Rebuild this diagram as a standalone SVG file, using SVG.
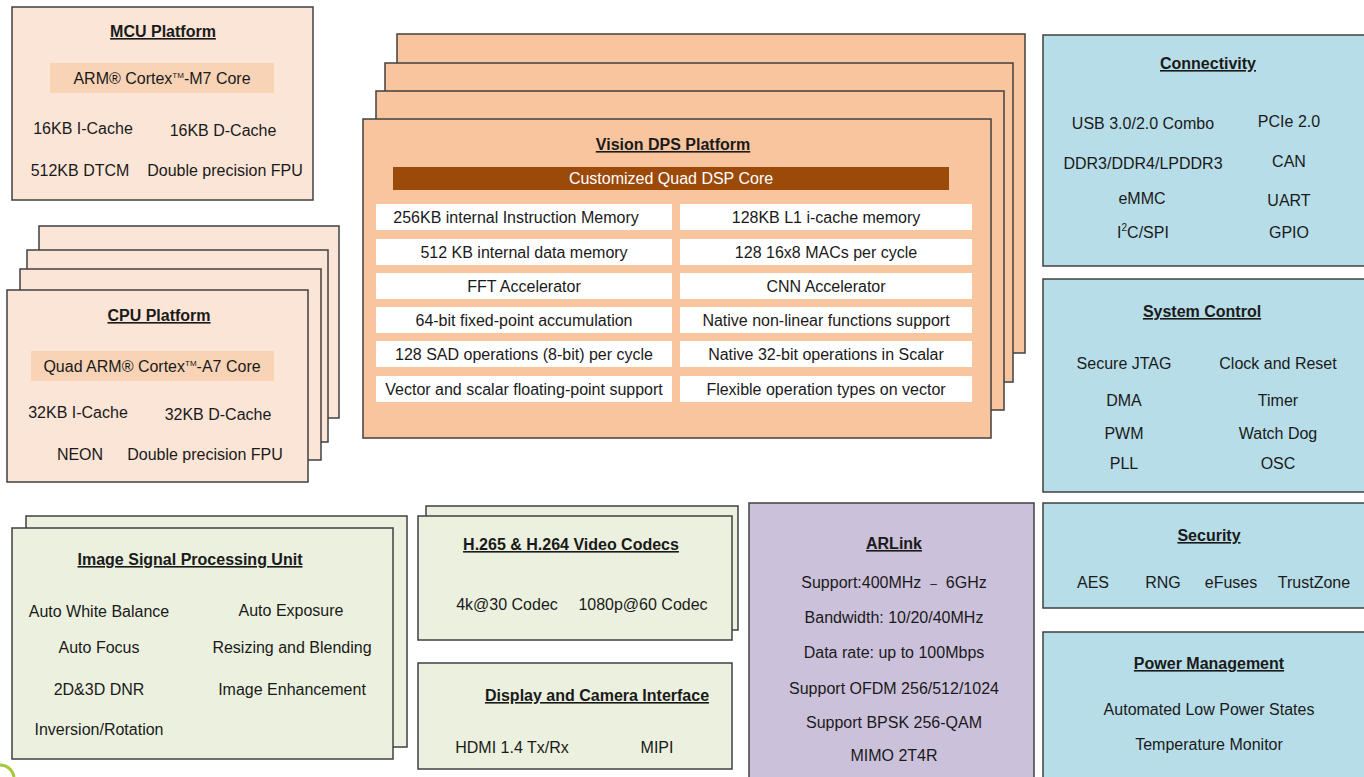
<svg xmlns="http://www.w3.org/2000/svg" width="1364" height="777" viewBox="0 0 1364 777">
<style>
text{font-family:"Liberation Sans",Arial,sans-serif;font-size:16px;fill:#1a1a1a;text-anchor:middle}
.t{font-weight:bold;text-decoration:underline}
.b{stroke:#404040;stroke-width:1.5}
.peach{fill:#fbe5d6}
.dsp{fill:#f8c59f}
.hl{fill:#f9d3b6}
.cell{fill:#ffffff}
.blue{fill:#b7dde8}
.green{fill:#ebf1de}
.lav{fill:#ccc1da}
</style>
<rect width="1364" height="777" fill="#ffffff"/>
<path d="M0 765 A 14 14 0 0 1 14 777" fill="none" stroke="#a6c93a" stroke-width="3"/>

<g id="mcu">
<rect class="b peach" x="12" y="7" width="301" height="193"/>
<text class="t" x="163" y="37">MCU Platform</text>
<rect class="hl" x="50" y="63" width="224" height="30"/>
<text x="162" y="84">ARM® Cortex<tspan font-size="8" dy="-6">TM</tspan><tspan dy="6">-M7 Core</tspan></text>
<text x="83" y="134">16KB I-Cache</text>
<text x="223" y="136">16KB D-Cache</text>
<text x="80" y="176">512KB DTCM</text>
<text x="225" y="176">Double precision FPU</text>
</g>

<g id="cpu">
<rect class="b peach" x="39" y="226" width="300" height="192"/>
<rect class="b peach" x="27" y="250" width="301" height="192"/>
<rect class="b peach" x="20" y="269" width="301" height="191"/>
<rect class="b peach" x="7" y="290" width="301" height="192"/>
<text class="t" x="159" y="321">CPU Platform</text>
<rect class="hl" x="31" y="351" width="243" height="30"/>
<text x="152" y="372">Quad ARM® Cortex<tspan font-size="8" dy="-6">TM</tspan><tspan dy="6">-A7 Core</tspan></text>
<text x="78" y="418">32KB I-Cache</text>
<text x="218" y="420">32KB D-Cache</text>
<text x="80" y="460">NEON</text>
<text x="205" y="460">Double precision FPU</text>
</g>

<g id="vision-dsp">
<rect class="b dsp" x="397" y="34" width="628" height="319"/>
<rect class="b dsp" x="385" y="63" width="628" height="319"/>
<rect class="b dsp" x="376" y="91" width="628" height="319"/>
<rect class="b dsp" x="363" y="119" width="628" height="319"/>
<text class="t" x="673" y="150">Vision DPS Platform</text>
<rect x="393" y="167" width="556" height="23" fill="#9c4a0a"/>
<text x="671" y="184" style="fill:#ffffff">Customized Quad DSP Core</text>
<rect class="cell" x="376" y="204" width="296" height="26"/>
<rect class="cell" x="680" y="204" width="292" height="26"/>
<rect class="cell" x="376" y="239" width="296" height="26"/>
<rect class="cell" x="680" y="239" width="292" height="26"/>
<rect class="cell" x="376" y="273" width="296" height="26"/>
<rect class="cell" x="680" y="273" width="292" height="26"/>
<rect class="cell" x="376" y="307" width="296" height="26"/>
<rect class="cell" x="680" y="307" width="292" height="26"/>
<rect class="cell" x="376" y="341" width="296" height="26"/>
<rect class="cell" x="680" y="341" width="292" height="26"/>
<rect class="cell" x="376" y="376" width="296" height="26"/>
<rect class="cell" x="680" y="376" width="292" height="26"/>
<text x="516" y="223">256KB internal Instruction Memory</text>
<text x="826" y="223">128KB L1 i-cache memory</text>
<text x="524" y="258">512 KB internal data memory</text>
<text x="826" y="258">128 16x8 MACs per cycle</text>
<text x="524" y="292">FFT Accelerator</text>
<text x="826" y="292">CNN Accelerator</text>
<text x="524" y="326">64-bit fixed-point accumulation</text>
<text x="826" y="326">Native non-linear functions support</text>
<text x="524" y="360">128 SAD operations (8-bit) per cycle</text>
<text x="826" y="360">Native 32-bit operations in Scalar</text>
<text x="524" y="395">Vector and scalar floating-point support</text>
<text x="826" y="395">Flexible operation types on vector</text>
</g>

<g id="connectivity">
<rect class="b blue" x="1043" y="35" width="325" height="231"/>
<text class="t" x="1208" y="69">Connectivity</text>
<text x="1143" y="129">USB 3.0/2.0 Combo</text>
<text x="1289" y="127">PCIe 2.0</text>
<text x="1143" y="169">DDR3/DDR4/LPDDR3</text>
<text x="1289" y="167">CAN</text>
<text x="1142" y="204">eMMC</text>
<text x="1289" y="206">UART</text>
<text x="1143" y="238">I<tspan font-size="10" dy="-7">2</tspan><tspan dy="7">C/SPI</tspan></text>
<text x="1289" y="238">GPIO</text>
</g>

<g id="system-control">
<rect class="b blue" x="1043" y="279" width="325" height="213"/>
<text class="t" x="1202" y="317">System Control</text>
<text x="1124" y="369">Secure JTAG</text>
<text x="1278" y="369">Clock and Reset</text>
<text x="1124" y="406">DMA</text>
<text x="1278" y="406">Timer</text>
<text x="1124" y="439">PWM</text>
<text x="1278" y="439">Watch Dog</text>
<text x="1124" y="469">PLL</text>
<text x="1278" y="469">OSC</text>
</g>

<g id="security">
<rect class="b blue" x="1043" y="503" width="325" height="105"/>
<text class="t" x="1209" y="541">Security</text>
<text x="1093" y="588">AES</text>
<text x="1163" y="588">RNG</text>
<text x="1231" y="588">eFuses</text>
<text x="1314" y="588">TrustZone</text>
</g>

<g id="power-management">
<rect class="b blue" x="1043" y="632" width="325" height="160"/>
<text class="t" x="1209" y="669">Power Management</text>
<text x="1209" y="715">Automated Low Power States</text>
<text x="1209" y="750">Temperature Monitor</text>
</g>

<g id="isp">
<rect class="b green" x="26" y="516" width="381" height="231"/>
<rect class="b green" x="12" y="528" width="381" height="231"/>
<text class="t" x="190" y="565">Image Signal Processing Unit</text>
<text x="99" y="617">Auto White Balance</text>
<text x="291" y="616">Auto Exposure</text>
<text x="99" y="653">Auto Focus</text>
<text x="292" y="653">Resizing and Blending</text>
<text x="99" y="695">2D&amp;3D DNR</text>
<text x="292" y="695">Image Enhancement</text>
<text x="99" y="735">Inversion/Rotation</text>
</g>

<g id="video-codecs">
<rect class="b green" x="426" y="506" width="312" height="124"/>
<rect class="b green" x="418" y="516" width="314" height="124"/>
<text class="t" x="571" y="550">H.265 &amp; H.264 Video Codecs</text>
<text x="507" y="610">4k@30 Codec</text>
<text x="643" y="610">1080p@60 Codec</text>
</g>

<g id="display-camera">
<rect class="b green" x="418" y="663" width="314" height="106"/>
<text class="t" x="597" y="701">Display and Camera Interface</text>
<text x="512" y="753">HDMI 1.4 Tx/Rx</text>
<text x="657" y="753">MIPI</text>
</g>

<g id="arlink">
<rect class="b lav" x="749" y="503" width="285" height="290"/>
<text class="t" x="894" y="549">ARLink</text>
<text x="894" y="588">Support:400MHz&#160;&#160;<tspan font-size="12">–</tspan>&#160;&#160;6GHz</text>
<text x="894" y="623">Bandwidth: 10/20/40MHz</text>
<text x="894" y="658">Data rate: up to 100Mbps</text>
<text x="894" y="694">Support OFDM 256/512/1024</text>
<text x="894" y="728">Support BPSK 256-QAM</text>
<text x="894" y="761">MIMO 2T4R</text>
</g>

<g id="connectors"></g>
</svg>
